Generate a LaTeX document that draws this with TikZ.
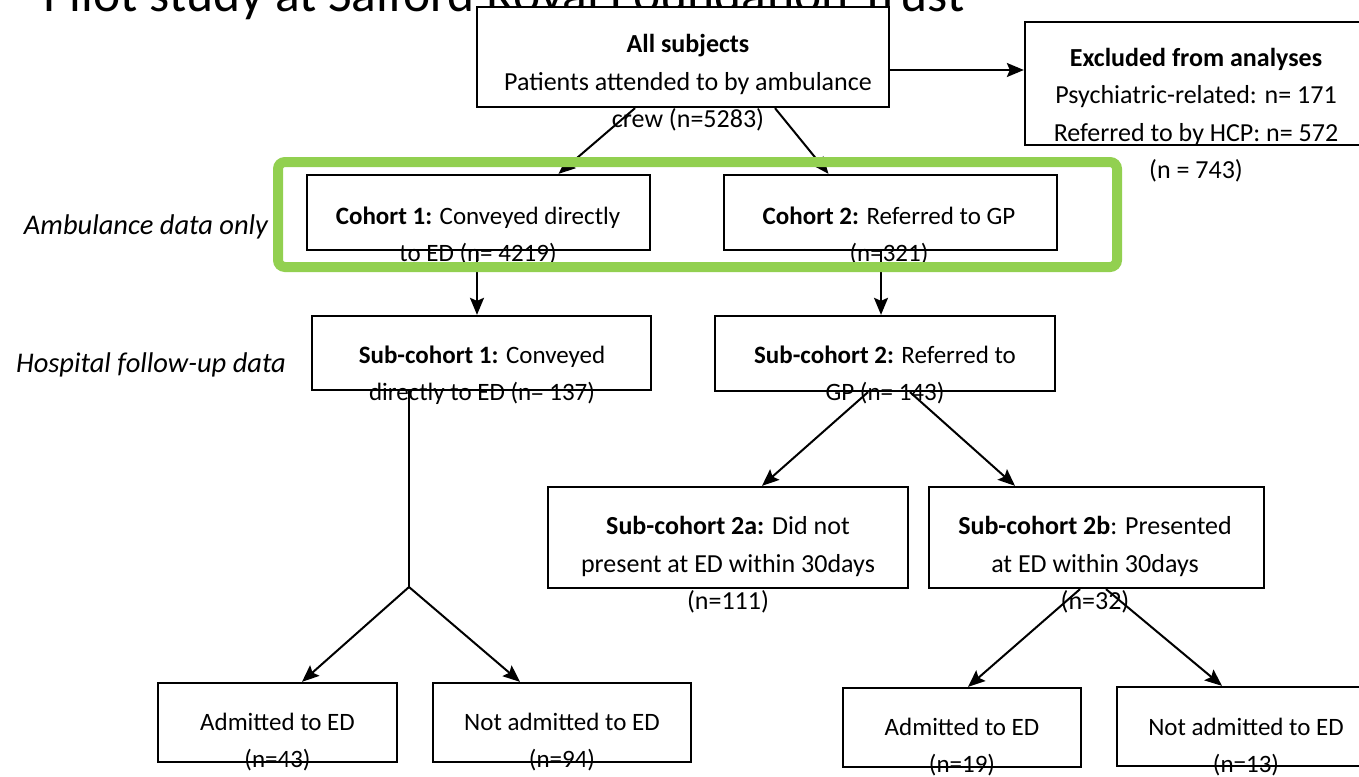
\documentclass[tikz,border=0pt]{standalone}
\usepackage{fontspec}
\setmainfont{Carlito}
\usetikzlibrary{arrows.meta,calc}
\definecolor{framegreen}{HTML}{92D050}
\begin{document}
\begin{tikzpicture}[x=1pt,y=-1pt,
  box/.style={draw=black,fill=white,line width=2.3pt,inner sep=0pt,minimum width=#1},
  txt/.style={align=center,inner sep=0pt,font=\fontsize{25}{37}\selectfont},
  bigtxt/.style={align=center,inner sep=0pt,font=\fontsize{26}{37.5}\selectfont},
  side/.style={inner sep=0pt,font=\fontsize{28.5}{32}\selectfont\itshape},
  arr/.style={draw=black,line width=2pt,-{Stealth[length=17pt,width=14pt,inset=3pt]}},
  ln/.style={draw=black,line width=2pt},
  greenframe/.style={draw=framegreen,line width=10pt,rounded corners=7pt}]
\useasboundingbox (0,0) rectangle (1359,776);
\clip (0,0) rectangle (1359,776);
\fill[white] (0,0) rectangle (1359,776);
% title (cut off at the top)
\node[anchor=base west,inner sep=0pt,font=\fontsize{51.5}{60}\selectfont] (title) at (43,12) {Pilot study at Salford Royal Foundation Trust};
% boxes
\node[box=412pt,minimum height=100pt] (all) at (683,57) {};
\node[box=350pt,minimum height=123pt] (excl) at (1200,83.5) {};
\node[box=343pt,minimum height=75pt] (c1) at (478.5,212.5) {};
\node[box=333pt,minimum height=75pt] (c2) at (890.5,212.5) {};
\node[box=339pt,minimum height=74pt] (s1) at (481.5,353) {};
\node[box=340pt,minimum height=75pt] (s2) at (885,353.5) {};
\node[box=360pt,minimum height=101pt] (s2a) at (728,537.5) {};
\node[box=335pt,minimum height=101pt] (s2b) at (1096.5,537.5) {};
\node[box=239pt,minimum height=79pt] (b1) at (277.5,722.5) {};
\node[box=258pt,minimum height=79pt] (b2) at (562,722.5) {};
\node[box=238pt,minimum height=79pt] (b3) at (962,727.5) {};
\node[box=258pt,minimum height=79pt] (b4) at (1246,726.5) {};
% texts
\node[bigtxt] (tall) at (688,83) {\textbf{All subjects}\\Patients attended to by ambulance\\crew (n=5283)};
\node[bigtxt] (texcl) at (1196,115) {\textbf{Excluded from analyses}\\Psychiatric-related: n= 171\\Referred to by HCP: n= 572\\(n = 743)};
\node[txt] (tc1) at (478,236) {\textbf{Cohort 1:} Conveyed directly\\to ED (n= 4219)};
\node[txt] (tc2) at (889,236) {\textbf{Cohort 2:} Referred to GP\\(n=321)};
\node[txt] (ts1) at (482,375) {\textbf{Sub-cohort 1:} Conveyed\\directly to ED (n= 137)};
\node[txt] (ts2) at (885,375) {\textbf{Sub-cohort 2:} Referred to\\GP (n= 143)};
\node[bigtxt] (ts2a) at (728,565) {\textbf{Sub-cohort 2a:} Did not\\present at ED within 30days\\(n=111)};
\node[bigtxt] (ts2b) at (1095,565) {\textbf{Sub-cohort 2b}: Presented\\at ED within 30days\\(n=32)};
\node[txt] (tb1) at (277.5,742) {Admitted to ED\\(n=43)};
\node[txt] (tb2) at (562,742) {Not admitted to ED\\(n=94)};
\node[txt] (tb3) at (962,747) {Admitted to ED\\(n=19)};
\node[txt] (tb4) at (1246,747) {Not admitted to ED\\(n=13)};
\node[side] (lamb) at (146,227) {Ambulance data only};
\node[side] (lhosp) at (151,365) {Hospital follow-up data};
% connectors
\draw[arr] ([yshift=-13pt]all.east) -- ([yshift=-13pt]all.east -| excl.west);
\draw[arr] ([xshift=-48pt]all.south) -- ([xshift=80pt]c1.north);
\draw[arr] ([xshift=92pt]all.south) -- ([xshift=-62pt]c2.north);
\draw[arr] ([xshift=-1.5pt]c1.south) -- ([xshift=-1.5pt]c1.south |- s1.north);
\draw[arr] ([xshift=-9.5pt]c2.south) -- ([xshift=-9.5pt]c2.south |- s2.north);
\coordinate (j1) at (409,587);
\draw[ln] (s1.south -| j1) -- (j1);
\draw[arr] (j1) -- ([xshift=24.5pt]b1.north);
\draw[arr] (j1) -- ([xshift=-42pt]b2.north);
\draw[arr] ([xshift=-17pt]s2.south) -- ([xshift=34pt]s2a.north);
\draw[arr] ([xshift=25pt]s2.south) -- ([xshift=-81.5pt]s2b.north);
\draw[arr] ([xshift=-16.5pt]s2b.south) -- ([xshift=6pt]b3.north);
\draw[arr] ([xshift=9.5pt]s2b.south) -- ([xshift=-24pt]b4.north);
% green frame
\draw[greenframe] (278,162) rectangle (1117,267);
\end{tikzpicture}
\end{document}
